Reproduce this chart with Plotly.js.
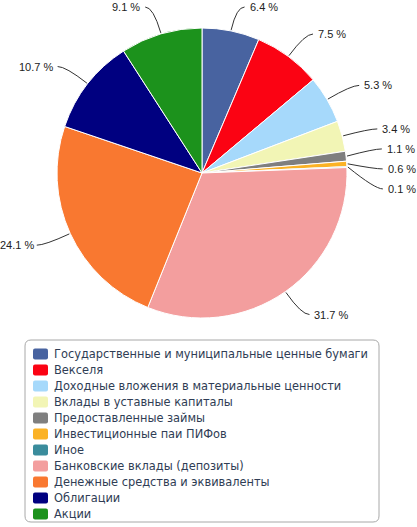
<!DOCTYPE html>
<html>
<head>
<meta charset="utf-8">
<script src="https://cdn.plot.ly/plotly-3.0.1.min.js"></script>
<style>
  html, body { margin: 0; padding: 0; background: #fff; }
  #chart { width: 417px; height: 527px; }
</style>
</head>
<body>
<div id="chart"></div>
<script>
/* ----- data ----- */
var labels = [
    'Государственные и муниципальные ценные бумаги',
    'Векселя',
    'Доходные вложения в материальные ценности',
    'Вклады в уставные капиталы',
    'Предоставленные займы',
    'Инвестиционные паи ПИФов',
    'Иное',
    'Банковские вклады (депозиты)',
    'Денежные средства и эквиваленты',
    'Облигации',
    'Акции'
];
var shares = [6.4, 7.5, 5.3, 3.4, 1.1, 0.6, 0.1, 31.7, 24.1, 10.7, 9.1];
var colors = ['#4863a0', '#fb0313', '#a6d9fb', '#f2f5b5', '#7f7f7f', '#fbb225',
              '#3a8c9c', '#f39e9e', '#f97830', '#000080', '#1c921c'];

/* ----- geometry (pixels) ----- */
var W = 417, H = 527;
var cx = 202, cy = 173, R = 145;   // pie centre and radius
var lead = 28;                     // leader elbow distance past the rim
var labelGap = 20;                 // min vertical gap between labels

function px(x) { return x / W; }
function py(y) { return 1 - y / H; }

var total = shares.reduce(function (a, b) { return a + b; }, 0);

/* ----- outside labels with curved leaders ----- */
var items = [];
var cum = 0;
shares.forEach(function (v, i) {
    var t = 2 * Math.PI * (cum + v / 2) / total;
    cum += v;
    items.push({
        i: i,
        side: Math.sin(t) >= 0 ? 1 : -1,
        x0: cx + (R + 1) * Math.sin(t),
        y0: cy - (R + 1) * Math.cos(t),
        xe: cx + (R + lead) * Math.sin(t),
        ye: cy - (R + lead) * Math.cos(t)
    });
});

function pushDown(side) {
    side.forEach(function (d, k) {
        if (k > 0) d.yl = Math.max(d.yl, side[k - 1].yl + labelGap);
    });
}

// spread crowded labels on each side, then pull each crowded run back up once
[1, -1].forEach(function (s) {
    var side = items.filter(function (d) { return d.side === s; })
        .sort(function (a, b) { return a.ye - b.ye; });
    side.forEach(function (d) { d.yl = Math.max(d.ye, 7); });
    pushDown(side);
    var k = 1;
    while (k < side.length) {
        if (side[k].yl - side[k - 1].yl > labelGap + 0.01) { k++; continue; }
        var start = k - 1, end = k;
        while (end + 1 < side.length && side[end + 1].yl - side[end].yl <= labelGap + 0.01) end++;
        var shift = 0;
        for (var j = start; j <= end; j++) shift += side[j].yl - side[j].ye;
        shift /= (end - start + 1);
        for (j = start; j <= end; j++) side[j].yl -= shift;
        k = end + 1;
    }
    pushDown(side);
});

var shapes = [];
var annotations = [];

items.forEach(function (d) {
    var xEnd = d.xe + d.side * 8;
    var xText = xEnd + d.side * 3;
    if (d.side < 0) xText = Math.max(xText, 36);
    shapes.push({
        type: 'path', xref: 'paper', yref: 'paper',
        path: 'M' + px(d.x0) + ',' + py(d.y0) +
              ' Q' + px(d.xe) + ',' + py(d.yl) +
              ' ' + px(xEnd) + ',' + py(d.yl),
        line: { color: '#333', width: 1 }
    });
    annotations.push({
        xref: 'paper', yref: 'paper',
        x: px(xText), y: py(d.yl),
        xanchor: d.side > 0 ? 'left' : 'right', yanchor: 'middle',
        text: shares[d.i].toFixed(1) + ' %',
        showarrow: false,
        font: { family: 'Liberation Sans Narrow, Liberation Sans, sans-serif', size: 11, color: '#222' }
    });
});

/* ----- hand-drawn legend box (rows tighter than Plotly's legend allows) ----- */
var boxL = 25, boxR = 379, boxT = 340, boxB = 522, rad = 6;
function roundRect(l, t, r, b, k) {
    return 'M' + px(l + k) + ',' + py(t) +
        ' L' + px(r - k) + ',' + py(t) + ' Q' + px(r) + ',' + py(t) + ' ' + px(r) + ',' + py(t + k) +
        ' L' + px(r) + ',' + py(b - k) + ' Q' + px(r) + ',' + py(b) + ' ' + px(r - k) + ',' + py(b) +
        ' L' + px(l + k) + ',' + py(b) + ' Q' + px(l) + ',' + py(b) + ' ' + px(l) + ',' + py(b - k) +
        ' L' + px(l) + ',' + py(t + k) + ' Q' + px(l) + ',' + py(t) + ' ' + px(l + k) + ',' + py(t) + ' Z';
}
shapes.push({
    type: 'path', xref: 'paper', yref: 'paper', layer: 'below',
    path: roundRect(boxL, boxT, boxR, boxB, rad),
    line: { color: '#a8a8a8', width: 1 }, fillcolor: '#fff'
});

var rowTop = 354, rowStep = 16;
labels.forEach(function (name, i) {
    var yc = rowTop + i * rowStep;
    shapes.push({
        type: 'path', xref: 'paper', yref: 'paper',
        path: roundRect(33, yc - 5.5, 48, yc + 5.5, 2),
        line: { width: 0 }, fillcolor: colors[i]
    });
    annotations.push({
        xref: 'paper', yref: 'paper',
        x: px(52), y: py(yc),
        xanchor: 'left', yanchor: 'middle',
        text: name, showarrow: false,
        font: { family: 'DejaVu Sans, sans-serif', size: 11.4, color: '#2f3d55' }
    });
});

/* ----- pie ----- */
var pie = {
    type: 'pie',
    labels: labels,
    values: shares,
    sort: false,
    direction: 'clockwise',
    rotation: 0,
    textinfo: 'none',
    hoverinfo: 'label+percent',
    marker: { colors: colors, line: { color: '#fff', width: 1 } },
    domain: {
        x: [px(cx - R), px(cx + R)],
        y: [py(cy + R), py(cy - R)]
    }
};

var layout = {
    width: W,
    height: H,
    showlegend: false,
    margin: { l: 0, r: 0, t: 0, b: 0, pad: 0 },
    paper_bgcolor: '#fff',
    shapes: shapes,
    annotations: annotations
};

Plotly.newPlot('chart', [pie], layout, { displayModeBar: false, staticPlot: true });
</script>
</body>
</html>
